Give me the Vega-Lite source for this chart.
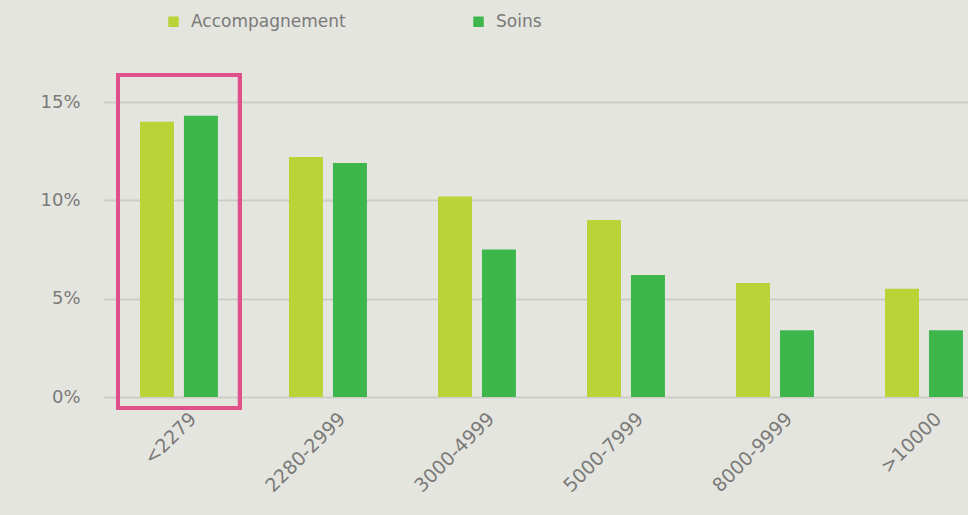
{
  "$schema": "https://vega.github.io/schema/vega-lite/v6.json",
  "autosize": {"type": "none"},
  "padding": {"left": 103, "top": 102, "right": 0, "bottom": 118},
  "width": 865,
  "height": 295,
  "background": "#e5e5e0",
  "config": {"view": {"stroke": null}, "font": "DejaVu Sans"},
  "data": {
    "values": [
      {"tranche": "<2279", "type": "Accompagnement", "valeur": 0.140},
      {"tranche": "<2279", "type": "Soins", "valeur": 0.143},
      {"tranche": "2280-2999", "type": "Accompagnement", "valeur": 0.122},
      {"tranche": "2280-2999", "type": "Soins", "valeur": 0.119},
      {"tranche": "3000-4999", "type": "Accompagnement", "valeur": 0.102},
      {"tranche": "3000-4999", "type": "Soins", "valeur": 0.075},
      {"tranche": "5000-7999", "type": "Accompagnement", "valeur": 0.090},
      {"tranche": "5000-7999", "type": "Soins", "valeur": 0.062},
      {"tranche": "8000-9999", "type": "Accompagnement", "valeur": 0.058},
      {"tranche": "8000-9999", "type": "Soins", "valeur": 0.034},
      {"tranche": ">10000", "type": "Accompagnement", "valeur": 0.055},
      {"tranche": ">10000", "type": "Soins", "valeur": 0.034}
    ]
  },
  "layer": [
    {
      "mark": {"type": "bar"},
      "encoding": {
        "x": {
          "field": "tranche",
          "type": "nominal",
          "scale": {
            "domain": ["<2279", "2280-2999", "3000-4999", "5000-7999", "8000-9999", ">10000"],
            "paddingInner": 0.477,
            "paddingOuter": 0.141,
            "align": 0.88
          },
          "axis": {
            "title": null,
            "labelAngle": -45,
            "labelFontSize": 19,
            "labelColor": "#7a7a78",
            "labelPadding": 12,
            "labelOffset": 8,
            "ticks": false,
            "domain": false,
            "grid": false
          }
        },
        "xOffset": {
          "field": "type",
          "type": "nominal",
          "scale": {"domain": ["Accompagnement", "Soins"], "paddingInner": 0.227, "paddingOuter": 0}
        },
        "y": {
          "field": "valeur",
          "type": "quantitative",
          "scale": {"domain": [0, 0.15], "nice": false},
          "axis": {
            "title": null,
            "values": [0, 0.05, 0.1, 0.15],
            "format": ".0%",
            "labelFontSize": 18,
            "labelColor": "#7a7a78",
            "labelPadding": 23,
            "ticks": false,
            "domain": false,
            "grid": true,
            "gridColor": "#cdcdc7",
            "gridWidth": 2
          }
        },
        "color": {
          "field": "type",
          "type": "nominal",
          "scale": {"domain": ["Accompagnement", "Soins"], "range": ["#bad336", "#3db64c"]},
          "legend": {
            "title": null,
            "orient": "none",
            "legendX": 62,
            "legendY": -89,
            "direction": "horizontal",
            "symbolType": "square",
            "symbolSize": 110,
            "symbolStrokeWidth": 0,
            "labelFontSize": 17,
            "labelColor": "#7a7a78",
            "labelOffset": 9,
            "columnPadding": 124
          }
        }
      }
    },
    {
      "mark": {"type": "bar", "width": {"band": 1.56}, "fillOpacity": 0, "stroke": "#e0508a", "strokeWidth": 3.5},
      "encoding": {
        "x": {"datum": "<2279"},
        "y": {"datum": 0.1636},
        "y2": {"datum": -0.0057}
      }
    }
  ]
}
